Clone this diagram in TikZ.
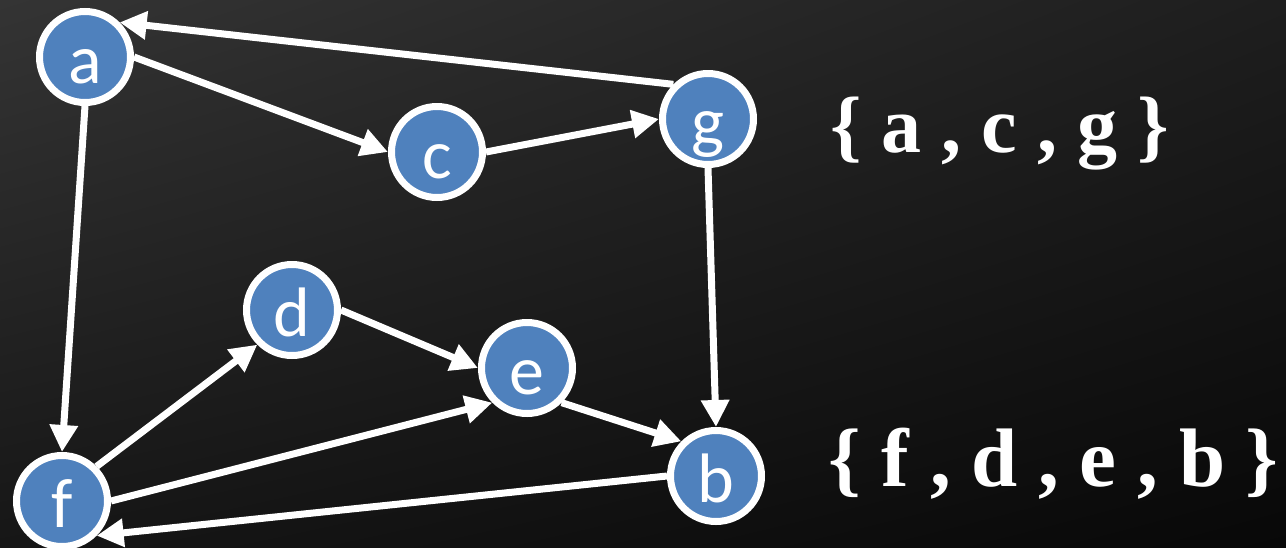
\documentclass[tikz,border=0pt]{standalone}
\usepackage{fontspec}
\newfontfamily\labelfont{Liberation Serif}[UprightFont={* Bold}]
\newfontfamily\nodefont{Carlito}
\usetikzlibrary{arrows.meta,shadings}
\definecolor{nodeblue}{RGB}{79,129,189}
\definecolor{bgA}{RGB}{52,52,52}
\definecolor{bgB}{RGB}{30,30,30}
\definecolor{bgC}{RGB}{22,22,22}
\definecolor{bgD}{RGB}{8,8,8}
\tikzset{
  vtx/.style={circle, draw=white, line width=7pt, fill=nodeblue, inner sep=0pt,
    minimum size=91pt, text=white, text height=52pt, text depth=0pt,
    font=\nodefont\fontsize{70}{70}\selectfont},
  conn/.style={draw=white, line width=7pt, -{Triangle[length=27pt,width=27pt]}},
  setlabel/.style={text=white, anchor=base west, inner sep=0pt}
}
\begin{document}
\begin{tikzpicture}[x=1pt,y=-1pt]
\clip (0,0) rectangle (1286,547);
\shade[upper left=bgA, upper right=bgB, lower left=bgC, lower right=bgD] (0,0) rectangle (1286,547);
\useasboundingbox (0,0) rectangle (1286,547);
\node[vtx] (a) at (85,57) {a};
\node[vtx] (c) at (437,152) {c};
\node[vtx] (g) at (708,119) {g};
\node[vtx] (d) at (292,310) {d};
\node[vtx] (e) at (527,368) {e};
\node[vtx] (b) at (716,476) {b};
\node[vtx] (f) at (62,501) {f};
\draw[conn] (g.135) -- (a.45);
\draw[conn] (a.east) -- (c.west);
\draw[conn] (c.east) -- (g.west);
\draw[conn] (a.south) -- (f.north);
\draw[conn] (g.south) -- (b.north);
\draw[conn] (f.45) -- (d.225);
\draw[conn] (f.east) -- (e.225);
\draw[conn] (d.east) -- (e.west);
\draw[conn] (e.-45) -- (b.135);
\draw[conn] (b.west) -- (f.-45);
\node[setlabel] (s1) at (830,152) {\labelfont\fontsize{80}{80}\selectfont \{ a , c , g \}};
\node[setlabel] (s2) at (828,486) {\labelfont\fontsize{83}{83}\selectfont \{ f , d , e , b \}};
\end{tikzpicture}
\end{document}
